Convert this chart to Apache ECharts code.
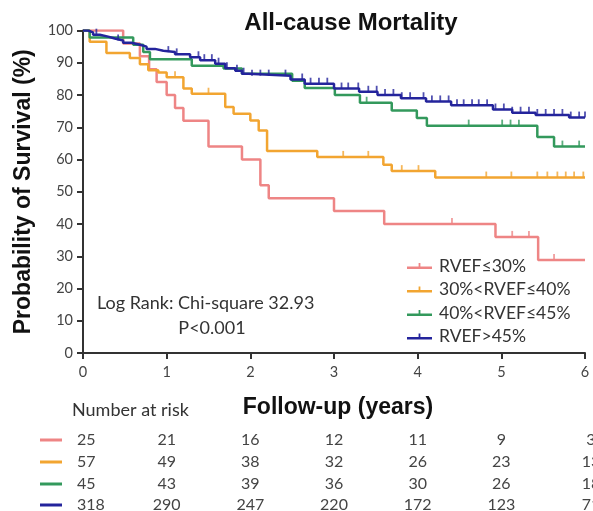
<!DOCTYPE html>
<html>
<head>
<meta charset="utf-8">
<script src="https://cdn.jsdelivr.net/npm/echarts@6/dist/echarts.min.js"></script>
<style>
  html, body { margin: 0; padding: 0; background: #fff; }
  #chart { width: 593px; height: 511px; }
</style>
</head>
<body>
<div id="chart"></div>
<script>
// Kaplan–Meier survival by RVEF group: step times (years) and survival (%) after each drop
const groupNames = ['RVEF≤30%', '30%<RVEF≤40%', '40%<RVEF≤45%', 'RVEF>45%'];
const groupColors = ['#EE8585', '#F2A531', '#33995C', '#24249C'];

const redTimes = [0, 0.48, 0.68, 0.79, 0.88, 1.0, 1.1, 1.2, 1.5, 1.9, 2.12, 2.22, 3.0, 3.6, 4.93, 5.44, 6];
const redSurv  = [100, 96, 92, 88, 84, 80, 76, 72, 64, 60, 52, 48, 44, 40, 36, 28.8, 28.8];
const redCensor = [4.41, 5.13, 5.33, 5.63];

const orangeTimes = [0, 0.08, 0.28, 0.56, 0.68, 0.78, 0.9, 1.0, 1.2, 1.3, 1.7, 1.8, 2.0, 2.1, 2.2, 2.8, 3.59, 3.69, 4.21, 6];
const orangeSurv  = [100, 96.5, 93, 91.5, 89.5, 87.7, 87, 85.5, 82, 80.4, 76.3, 74.2, 72.1, 69, 62.6, 60.8, 58.4, 56.4, 54.4, 54.4];
const orangeCensor = [1.1, 1.5, 3.11, 3.41, 3.81, 4.01, 4.82, 5.12, 5.43, 5.55, 5.67, 5.77, 5.87, 5.98];

const greenTimes = [0, 0.08, 0.6, 0.72, 0.8, 1.3, 1.68, 1.9, 2.5, 2.65, 3.01, 3.31, 3.69, 3.99, 4.11, 5.43, 5.63, 6];
const greenSurv  = [100, 97.8, 95.6, 93.3, 91.1, 89.1, 88.2, 86.6, 84.4, 82.2, 80, 77.6, 75.2, 72.9, 70.5, 67, 64, 64];
const greenCensor = [3.39, 4.61, 5.01, 5.11, 5.21, 5.73, 5.93];

const blueTimes = [0, 0.06, 0.12, 0.2, 0.3, 0.38, 0.48, 0.58, 0.68, 0.76, 0.86, 0.96, 1.1, 1.28, 1.4, 1.58, 1.7, 1.82, 1.9, 1.98, 2.48, 2.65, 3.0, 3.3, 3.52, 3.8, 4.1, 4.4, 4.9, 5.13, 5.41, 5.81, 6];
const blueSurv  = [100, 99.4, 98.7, 98.1, 97.5, 96.9, 96.2, 95.6, 95.0, 94.3, 93.7, 93.3, 92.6, 91.7, 90.8, 89.7, 88.3, 87.5, 86.6, 86.0, 84.8, 83.5, 82, 81, 80, 79, 78, 76.8, 75.5, 74.5, 73.8, 73, 73];
const blueCensor = [0.16, 0.42, 1.02, 1.12, 1.38, 1.45, 1.54, 1.62, 1.72, 1.84, 1.92, 2.02, 2.12, 2.22, 2.42, 2.62, 2.72, 2.82, 2.92, 3.09, 3.17, 3.29, 3.41, 3.51, 3.61, 3.71, 3.81, 3.91, 4.07, 4.17, 4.27, 4.37, 4.47, 4.55, 4.65, 4.73, 4.83, 4.93, 5.03, 5.13, 5.23, 5.33, 5.43, 5.53, 5.63, 5.73, 5.83, 5.93, 6.0];

// Axis ticks
const xTicks = [0, 1, 2, 3, 4, 5, 6];
const yTicks = [0, 10, 20, 30, 40, 50, 60, 70, 80, 90, 100];

// Number at risk at each yearly tick
const atRiskRed    = [25, 21, 16, 12, 11, 9, 3];
const atRiskOrange = [57, 49, 38, 32, 26, 23, 13];
const atRiskGreen  = [45, 43, 39, 36, 30, 26, 18];
const atRiskBlue   = [318, 290, 247, 220, 172, 123, 71];

const statLine1 = 'Log Rank: Chi-square 32.93';
const statLine2 = 'P<0.001';

const groups = [
  { times: redTimes, surv: redSurv, censor: redCensor, risk: atRiskRed },
  { times: orangeTimes, surv: orangeSurv, censor: orangeCensor, risk: atRiskOrange },
  { times: greenTimes, surv: greenSurv, censor: greenCensor, risk: atRiskGreen },
  { times: blueTimes, surv: blueSurv, censor: blueCensor, risk: atRiskBlue }
];

function survivalAt(times, surv, t) {
  let s = surv[0];
  for (let i = 0; i < times.length; i++) {
    if (times[i] <= t + 1e-9) s = surv[i];
  }
  return s;
}

const labelFont = 'Lato, "Open Sans", sans-serif';
const boldFont = '"Liberation Sans", Arial, sans-serif';

const series = [];
groups.forEach((g, i) => {
  series.push({
    name: groupNames[i],
    type: 'line',
    step: 'end',
    showSymbol: false,
    silent: true,
    z: 3 + i,
    lineStyle: { color: groupColors[i], width: 2.5 },
    itemStyle: { color: groupColors[i] },
    data: g.times.map((t, k) => [t, g.surv[k]])
  });
  series.push({
    name: groupNames[i],
    type: 'scatter',
    silent: true,
    z: 3 + i,
    symbol: 'rect',
    symbolSize: [1.8, 6],
    symbolOffset: [0, -3],
    itemStyle: { color: groupColors[i] },
    data: g.censor.map(t => [t, survivalAt(g.times, g.surv, t)])
  });
});

const chart = echarts.init(document.getElementById('chart'), null, { renderer: 'canvas' });

const option = {
  animation: false,
  backgroundColor: '#fff',
  title: {
    text: 'All-cause Mortality',
    left: 346,
    top: 6,
    textAlign: 'center',
    textStyle: { fontFamily: boldFont, fontWeight: 'bold', fontSize: 24, color: '#111' }
  },
  grid: { left: 83, right: 8, top: 30.5, bottom: 158 },
  legend: {
    data: groupNames,
    orient: 'vertical',
    left: 402,
    top: 252,
    itemWidth: 25,
    itemHeight: 10,
    itemGap: 5.5,
    icon: 'path://M0,6.5 L25,6.5 L25,9 L0,9 Z M11.6,3 L13.4,3 L13.4,7 L11.6,7 Z',
    selectedMode: false,
    textStyle: { fontFamily: labelFont, fontSize: 17.5, color: '#333', padding: [0, 0, 0, 2] }
  },
  xAxis: {
    type: 'value',
    min: 0,
    max: 6,
    interval: 1,
    name: 'Follow-up (years)',
    nameLocation: 'middle',
    nameGap: 43,
    nameTextStyle: { fontFamily: boldFont, fontWeight: 'bold', fontSize: 23, color: '#111', padding: [0, 0, 0, 8] },
    splitLine: { show: false },
    axisLine: { show: true, lineStyle: { color: '#333', width: 2 } },
    axisTick: { show: true, length: 6, lineStyle: { color: '#333', width: 2 } },
    axisLabel: {
      margin: 12,
      fontFamily: labelFont, fontSize: 14.5, color: '#444',
      formatter: v => (xTicks.indexOf(v) >= 0 ? String(v) : '')
    }
  },
  yAxis: {
    type: 'value',
    min: 0,
    max: 100,
    interval: 10,
    name: 'Probability of Survival (%)',
    nameLocation: 'middle',
    nameGap: 48,
    nameRotate: 90,
    nameTextStyle: { fontFamily: boldFont, fontWeight: 'bold', fontSize: 23, color: '#111' },
    splitLine: { show: false },
    axisLine: { show: true, lineStyle: { color: '#333', width: 2 } },
    axisTick: { show: true, length: 6, lineStyle: { color: '#333', width: 2 } },
    axisLabel: {
      margin: 10,
      fontFamily: labelFont, fontSize: 14.5, color: '#444',
      formatter: v => (yTicks.indexOf(v) >= 0 ? String(v) : '')
    }
  },
  series: series
};

chart.setOption(option);

// Statistics note and number-at-risk table, placed from the x scale
const graphics = [];
graphics.push({
  type: 'text', x: 97, y: 303,
  style: { text: statLine1, font: '18px ' + labelFont, fill: '#333', textVerticalAlign: 'middle' }
});
graphics.push({
  type: 'text', x: 212, y: 328,
  style: { text: statLine2, font: '18px ' + labelFont, fill: '#333', textAlign: 'center', textVerticalAlign: 'middle' }
});
graphics.push({
  type: 'text', x: 72, y: 410,
  style: { text: 'Number at risk', font: '18px ' + labelFont, fill: '#333', textVerticalAlign: 'middle' }
});

const rowY = [440, 462, 484, 505];
const colX = xTicks.map(t => chart.convertToPixel({ xAxisIndex: 0 }, t));
groups.forEach((g, r) => {
  graphics.push({
    type: 'line',
    shape: { x1: 40, y1: rowY[r], x2: 62, y2: rowY[r] },
    style: { stroke: groupColors[r], lineWidth: 3 }
  });
  g.risk.forEach((n, c) => {
    const first = c === 0;
    graphics.push({
      type: 'text',
      x: first ? colX[0] - 6 : colX[c] + (c === 6 ? 6 : 0),
      y: rowY[r],
      style: {
        text: String(n),
        font: '16px ' + labelFont,
        fill: '#444',
        textAlign: first ? 'left' : 'center',
        textVerticalAlign: 'middle'
      }
    });
  });
});

chart.setOption({ graphic: graphics });
</script>
</body>
</html>
